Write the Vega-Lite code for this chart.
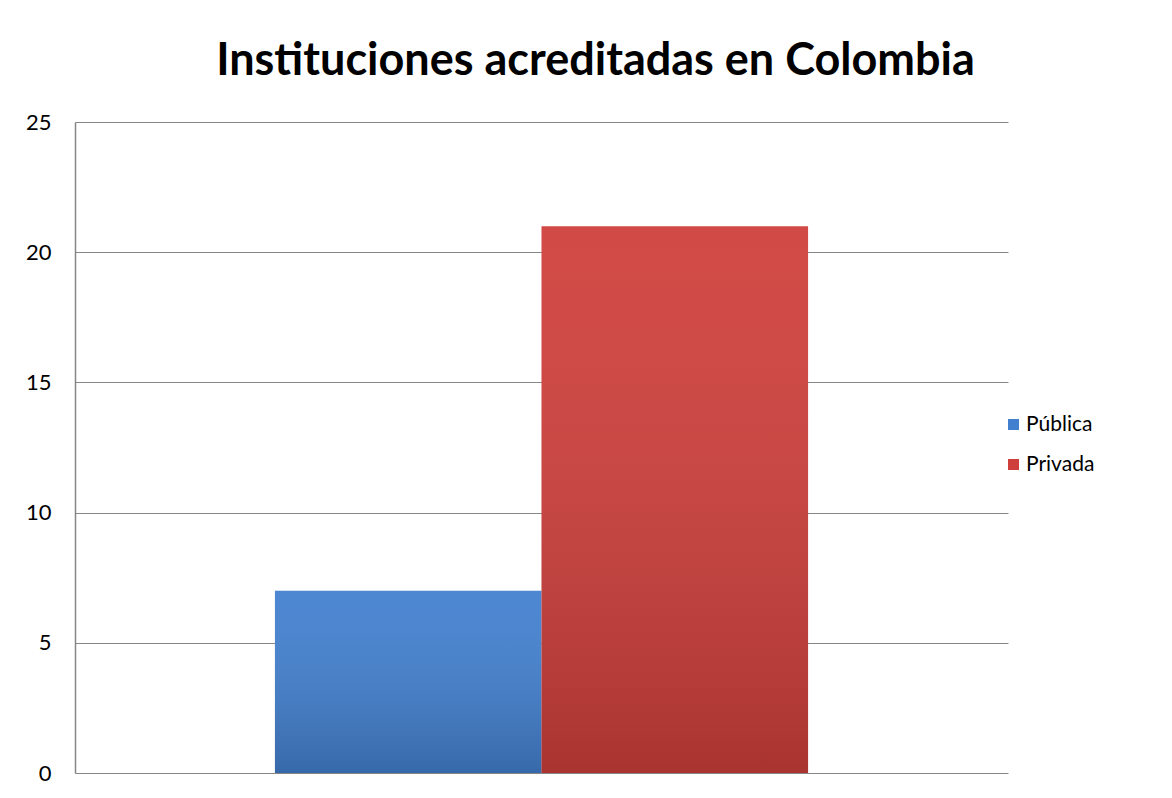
{
  "$schema": "https://vega.github.io/schema/vega-lite/v6.json",
  "autosize": "none",
  "width": 933,
  "height": 651,
  "padding": {"left": 75, "top": 122, "right": 164, "bottom": 25},
  "background": "white",
  "data": {"values": [
    {"Tipo": "Pública", "Instituciones": 7},
    {"Tipo": "Privada", "Instituciones": 21}
  ]},
  "title": {
    "text": "Instituciones acreditadas en Colombia",
    "font": "Lato",
    "fontSize": 45,
    "fontWeight": "bold",
    "color": "black",
    "anchor": "middle",
    "frame": "group",
    "dx": 54,
    "offset": 27
  },
  "config": {
    "view": {"stroke": null},
    "font": "Lato"
  },
  "layer": [
    {
      "mark": {"type": "bar"},
      "encoding": {
        "x": {"field": "Tipo", "type": "nominal", "sort": ["Pública", "Privada"],
              "scale": {"paddingInner": 0, "paddingOuter": 0.75}, "axis": null},
        "y": {"field": "Instituciones", "type": "quantitative",
              "scale": {"domain": [0, 25], "nice": false},
              "axis": {"values": [0, 5, 10, 15, 20, 25], "title": null, "ticks": false,
                       "labelFontSize": 22, "labelColor": "black", "labelPadding": 24,
                       "domainColor": "#868686", "gridColor": "#868686", "gridOpacity": 1,
                       "domainWidth": 1.5}},
        "color": {"field": "Tipo", "type": "nominal", "sort": ["Pública", "Privada"],
                  "scale": {"domain": ["Pública", "Privada"], "range": ["#4280cf", "#cf3f3b"]},
                  "legend": {"title": null, "orient": "none", "legendX": 928, "legendY": 292,
                             "symbolType": "square", "symbolSize": 121, "symbolOpacity": 1,
                             "labelFontSize": 21, "labelColor": "black", "labelOffset": 2,
                             "rowPadding": 18}}
      }
    },
    {
      "mark": {"type": "bar",
               "color": {"gradient": "linear", "x1": 0, "y1": 0, "x2": 0, "y2": 1,
                         "stops": [{"offset": 0, "color": "rgba(255,255,255,0.06)"},
                                   {"offset": 1, "color": "rgba(0,0,0,0.18)"}]}},
      "encoding": {
        "x": {"field": "Tipo", "type": "nominal", "sort": ["Pública", "Privada"]},
        "y": {"field": "Instituciones", "type": "quantitative"}
      }
    }
  ]
}
